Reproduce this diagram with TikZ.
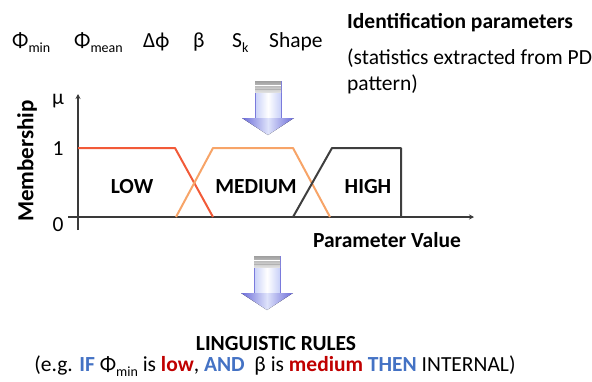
\documentclass[tikz,border=0pt]{standalone}
\usepackage{fontspec}
\setmainfont{Carlito}
\usetikzlibrary{arrows.meta}
\definecolor{ruleblue}{HTML}{4472C4}
\definecolor{rulered}{HTML}{C00000}
\definecolor{lowline}{HTML}{F25A38}
\definecolor{medline}{HTML}{F7A468}
\definecolor{highline}{HTML}{3F3F3F}
\definecolor{axisgray}{HTML}{3A3A3A}
\definecolor{arrowedge}{HTML}{7A7ADC}
\definecolor{arrowfill}{HTML}{C8D0F8}
\definecolor{headdark}{HTML}{6A6AD8}
\newcommand{\lsub}[1]{\raisebox{-0.25em}{\fontsize{14}{14}\selectfont #1}}
\tikzset{
  lbl/.style={inner sep=0pt, font=\fontsize{21.5}{25}\selectfont},
  boldlbl/.style={lbl, font=\fontsize{21.5}{25}\selectfont\bfseries},
  mf/.style={line width=2pt, line join=round},
  axisline/.style={draw=axisgray, line width=1.8pt, -{Stealth[length=5pt,width=5pt]}},
  blockarrow/.pic={
    \fill[left color=arrowfill, right color=arrowfill, middle color=white]
      (-13,0) rectangle (13,39);
    \draw[arrowedge, line width=0.5pt] (-13,39) -- (-13,0) -- (13,0) -- (13,39);
    \fill[top color=gray!75, bottom color=gray!25] (-13,0) rectangle (13,11);
    \draw[white, line width=0.8pt] (-13,4) -- (13,4);
    \draw[gray!60, line width=0.6pt] (-13,8) -- (13,8);
    \fill[left color=headdark, right color=headdark, middle color=arrowfill!60!white]
      (-26,37) -- (26,37) -- (0,54) -- cycle;
  }
}
\begin{document}
\begin{tikzpicture}[x=1pt,y=-1pt]
\useasboundingbox (0,0) rectangle (592,381);
% top row of parameters
\node[lbl, anchor=base west] (pmin) at (12,47) {Φ\lsub{min}};
\node[lbl, anchor=base west] (pmean) at (74,47) {Φ\lsub{mean}};
\node[lbl, anchor=base west] (dphi) at (143,47) {Δϕ};
\node[lbl, anchor=base west] (beta) at (193,47) {β};
\node[lbl, anchor=base west] (sk) at (232,47) {S\lsub{k}};
\node[lbl, anchor=base west] (shape) at (269,47) {Shape};
\node[boldlbl, anchor=base west] (idp) at (347,28) {Identification parameters};
\node[lbl, anchor=base west] (stat1) at (347,64) {(statistics extracted from PD};
\node[lbl, anchor=base west] (stat2) at (347,90) {pattern)};
% block arrows
\pic at (268,81) {blockarrow};
\pic at (267,256) {blockarrow};
% axes
\draw[axisline] (68,217) -- (474,217);
\draw[axisline] (78,230) -- (78,94);
\node[lbl] (mu) at (58,101) {μ};
\node[lbl] (one) at (58,149) {1};
\node[lbl] (zero) at (58,225) {0};
\node[boldlbl, rotate=90, font=\fontsize{23}{26}\selectfont\bfseries] (memb) at (27,161) {Membership};
\node[boldlbl, anchor=base] (pval) at (387,247) {Parameter Value};
% membership functions
\draw[mf, lowline] (78,148) -- (175,148) -- (213,217);
\draw[mf, medline] (176,217) -- (213,148) -- (293,148) -- (330,217);
\draw[mf, highline] (293,217) -- (332,148) -- (401,148) -- (401,217);
\node[boldlbl, anchor=base] (low) at (132,193) {LOW};
\node[boldlbl, anchor=base] (medium) at (256,193) {MEDIUM};
\node[boldlbl, anchor=base] (high) at (368,193) {HIGH};
% rules
\node[boldlbl, anchor=base] (rules) at (276,350) {LINGUISTIC RULES};
\node[lbl, anchor=base] (example) at (275,371) {(e.g. \textbf{\color{ruleblue}IF} Φ\lsub{min} is \textbf{\color{rulered}low}, \textbf{\color{ruleblue}AND}\ \ β is \textbf{\color{rulered}medium} \textbf{\color{ruleblue}THEN} INTERNAL)};
\end{tikzpicture}
\end{document}
